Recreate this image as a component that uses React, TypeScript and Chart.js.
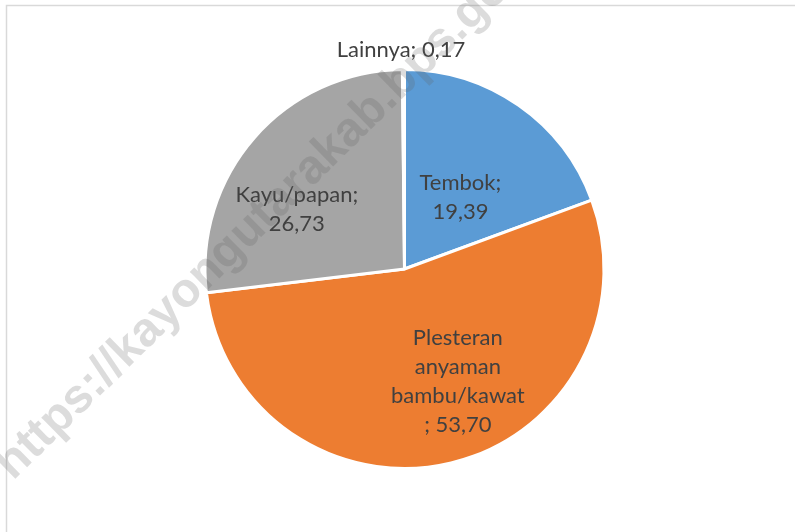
import React, { useEffect, useRef } from "react";
import { Chart, registerables } from "chart.js";

Chart.register(...registerables);

const categories = ["Tembok", "Plesteran anyaman bambu/kawat", "Kayu/papan", "Lainnya"];
const values = [19.39, 53.7, 26.73, 0.17];
const labelLines = [
  ["Tembok;", "19,39"],
  ["Plesteran", "anyaman", "bambu/kawat", "; 53,70"],
  ["Kayu/papan;", "26,73"],
  ["Lainnya; 0,17"],
];
const colors = ["#5B9BD5", "#ED7D31", "#A5A5A5", "#FFC000"];
const labelAngleOffsetDeg = [3.2, -11.9, -12.1, -0.6];
const labelRadiusFrac = [0.454, 0.623, 0.618, 1.1];
const watermark = "https://kayongutarakab.bps.go.id";

const FONT = "22px Lato, 'Open Sans', sans-serif";
const LINE_H = 29;

const framePlugin = {
  id: "frame",
  beforeDraw(chart: any) {
    const ctx = chart.ctx;
    ctx.save();
    ctx.fillStyle = "#ffffff";
    ctx.fillRect(0, 0, chart.width, chart.height);
    ctx.strokeStyle = "#d9d9d9";
    ctx.lineWidth = 1.5;
    ctx.strokeRect(6.5, 5.5, 1000, 1000);
    ctx.restore();
  },
};

const labelPlugin = {
  id: "sliceLabels",
  afterDatasetsDraw(chart: any) {
    const ctx = chart.ctx;
    const meta = chart.getDatasetMeta(0);
    ctx.save();
    ctx.font = FONT;
    ctx.fillStyle = "#404040";
    ctx.textAlign = "center";
    ctx.textBaseline = "middle";
    meta.data.forEach((arc: any, i: number) => {
      const p = arc.getProps(["x", "y", "startAngle", "endAngle", "outerRadius"], true);
      const mid = (p.startAngle + p.endAngle) / 2 + (labelAngleOffsetDeg[i] * Math.PI) / 180;
      const r = p.outerRadius * labelRadiusFrac[i];
      const cx = p.x + Math.cos(mid) * r;
      const cy = p.y + Math.sin(mid) * r;
      const lines = labelLines[i];
      const top = cy - ((lines.length - 1) * LINE_H) / 2;
      lines.forEach((t, j) => ctx.fillText(t, cx, top + j * LINE_H));
    });
    ctx.restore();
  },
};

const watermarkPlugin = {
  id: "watermark",
  afterDraw(chart: any) {
    const ctx = chart.ctx;
    ctx.save();
    ctx.translate(13, 481);
    ctx.rotate((-44.5 * Math.PI) / 180);
    ctx.font = "bold 48px 'Liberation Sans', Arial, sans-serif";
    ctx.fillStyle = "rgba(95,95,95,0.22)";
    ctx.textAlign = "left";
    ctx.textBaseline = "alphabetic";
    ctx.fillText(watermark, 0, 0);
    ctx.restore();
  },
};

export default function App() {
  const ref = useRef<HTMLCanvasElement | null>(null);
  useEffect(() => {
    if (!ref.current) return;
    const chart = new Chart(ref.current, {
      type: "pie",
      data: {
        labels: categories,
        datasets: [
          {
            data: values,
            backgroundColor: colors,
            borderColor: "#ffffff",
            borderWidth: 3,
          },
        ],
      },
      options: {
        responsive: false,
        animation: false,
        layout: { padding: { top: 68, bottom: 62, left: 100, right: 86 } },
        plugins: {
          legend: { display: false },
          tooltip: { enabled: false },
          title: { display: false },
        },
      },
      plugins: [framePlugin, labelPlugin, watermarkPlugin],
    });
    return () => chart.destroy();
  }, []);
  return (
    <div style={{ position: "fixed", left: 0, top: 0, width: 795, height: 532, background: "#fff" }}>
      <canvas ref={ref} width={795} height={532} style={{ display: "block" }} />
    </div>
  );
}
